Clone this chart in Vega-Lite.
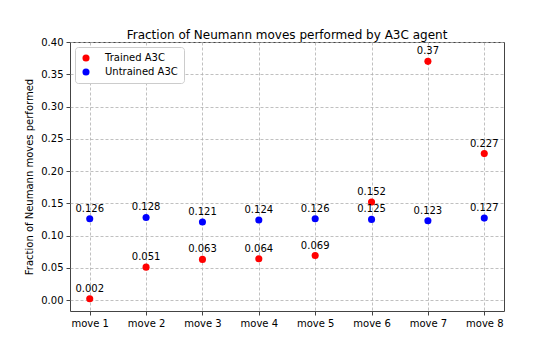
{
  "$schema": "https://vega.github.io/schema/vega-lite/v6.json",
  "width": 434,
  "height": 269,
  "autosize": "none",
  "padding": {"left": 70, "top": 42, "right": 56, "bottom": 39},
  "background": "white",
  "title": {"text": "Fraction of Neumann moves performed by A3C agent", "fontSize": 12, "fontWeight": "normal", "font": "DejaVu Sans", "color": "black", "offset": -5},
  "config": {
    "font": "DejaVu Sans",
    "view": {"stroke": "#444", "strokeWidth": 1},
    "axis": {"labelFont": "DejaVu Sans", "titleFont": "DejaVu Sans", "labelFontSize": 10, "titleFontSize": 10, "titleFontWeight": "normal", "labelColor": "black", "titleColor": "black", "tickColor": "#444", "domain": false, "grid": true, "gridColor": "#b0b0b0", "gridDash": [3, 2], "gridWidth": 0.8, "tickSize": 4}
  },
  "data": {"values": [
    {"move": "move 1", "series": "Trained A3C", "value": 0.002},
    {"move": "move 2", "series": "Trained A3C", "value": 0.051},
    {"move": "move 3", "series": "Trained A3C", "value": 0.063},
    {"move": "move 4", "series": "Trained A3C", "value": 0.064},
    {"move": "move 5", "series": "Trained A3C", "value": 0.069},
    {"move": "move 6", "series": "Trained A3C", "value": 0.152},
    {"move": "move 7", "series": "Trained A3C", "value": 0.37},
    {"move": "move 8", "series": "Trained A3C", "value": 0.227},
    {"move": "move 1", "series": "Untrained A3C", "value": 0.126},
    {"move": "move 2", "series": "Untrained A3C", "value": 0.128},
    {"move": "move 3", "series": "Untrained A3C", "value": 0.121},
    {"move": "move 4", "series": "Untrained A3C", "value": 0.124},
    {"move": "move 5", "series": "Untrained A3C", "value": 0.126},
    {"move": "move 6", "series": "Untrained A3C", "value": 0.125},
    {"move": "move 7", "series": "Untrained A3C", "value": 0.123},
    {"move": "move 8", "series": "Untrained A3C", "value": 0.127}
  ]},
  "encoding": {
    "x": {"field": "move", "type": "ordinal", "scale": {"type": "point", "padding": 0.35}, "axis": {"title": null, "labelAngle": 0, "labelPadding": 3}},
    "y": {"field": "value", "type": "quantitative", "scale": {"domain": [-0.017, 0.4], "nice": false, "zero": false}, "axis": {"title": "Fraction of Neumann moves performed", "values": [0, 0.05, 0.1, 0.15, 0.2, 0.25, 0.3, 0.35, 0.4], "format": ".2f", "titlePadding": 6, "labelPadding": 3}}
  },
  "layer": [
    {
      "mark": {"type": "circle", "size": 50, "opacity": 1},
      "encoding": {
        "color": {"field": "series", "type": "nominal", "scale": {"domain": ["Trained A3C", "Untrained A3C"], "range": ["#ff0000", "#0000ff"]},
          "legend": {"title": null, "orient": "top-left", "offset": 5, "padding": 6, "fillColor": "white", "strokeColor": "#cccccc", "cornerRadius": 3, "labelFontSize": 10, "labelFont": "DejaVu Sans", "symbolSize": 50, "symbolType": "circle", "rowPadding": 4, "labelOffset": 14}}
      }
    },
    {
      "mark": {"type": "text", "baseline": "bottom", "dy": -5, "fontSize": 10, "color": "black", "font": "DejaVu Sans"},
      "encoding": {"text": {"field": "value", "type": "nominal"}}
    }
  ]
}
